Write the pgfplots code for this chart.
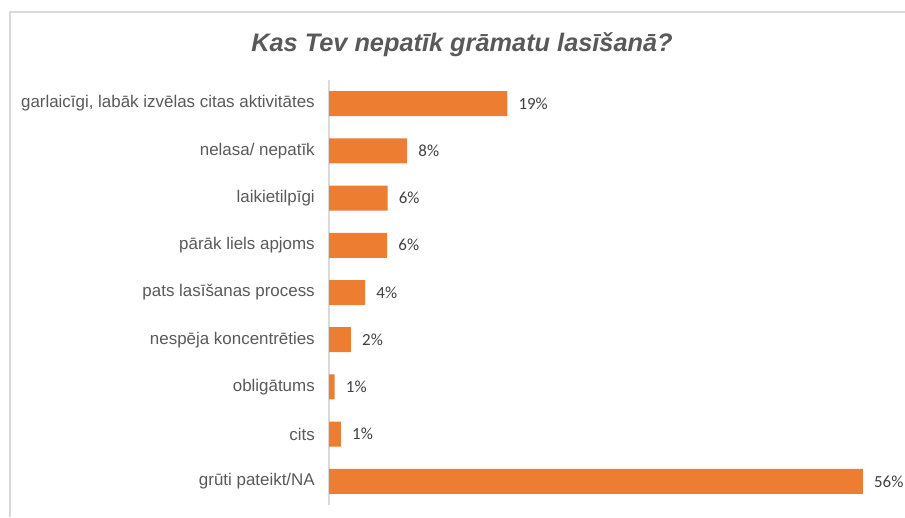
\documentclass[border=0pt]{standalone}
\usepackage{fontspec}
\setmainfont{Liberation Sans}
\newfontfamily\carlito{Carlito}
\usepackage{pgfplots}
\pgfplotsset{compat=1.18}
\usepackage{pgfplotstable}

\definecolor{barorange}{HTML}{ED7D31}
\definecolor{labelgray}{HTML}{595959}
\definecolor{valgray}{HTML}{404040}
\definecolor{framegray}{HTML}{D9D9D9}

% 1 px of the reference = 0.75pt
\newcommand\px{0.75pt}

% y = row (0 at top), x = share in %, lab = printed value
\pgfplotstableread{
y x lab
0 18.7 19
1 8.2 8
2 6.15 6
3 6.1 6
4 3.8 4
5 2.3 2
6 0.6 1
7 1.25 1
8 56 56
}\answers

\begin{document}
\begin{tikzpicture}
  % frame of the chart area (cut by the image on the right and bottom)
  \draw[framegray, line width=1.2pt] (10*\px,-517*\px) -- (10*\px,-12*\px) -- (905*\px,-12*\px);

  \node[font=\fontsize{19}{22}\selectfont\bfseries\itshape, text=labelgray]
    at (462*\px,-45*\px) {Kas Tev nepatīk grāmatu lasīšanā?};

  \begin{axis}[
      at={(329*\px,-80*\px)}, anchor=north west,
      scale only axis,
      width=572*\px, height=425*\px,
      xbar, bar width=25*\px,
      xmin=0, xmax=60,
      ymin=-0.5, ymax=8.5,
      y dir=reverse,
      hide x axis,
      axis y line*=left,
      y axis line style={framegray, line width=0.9pt, -},
      ytick={0,...,8},
      yticklabels={{garlaicīgi, labāk izvēlas citas aktivitātes},
        {nelasa/ nepatīk}, {laikietilpīgi}, {pārāk liels apjoms},
        {pats lasīšanas process}, {nespēja koncentrēties},
        {obligātums}, {cits}, {grūti pateikt/NA}},
      major tick length=0pt,
      yticklabel style={font=\fontsize{12.7}{15}\selectfont, text=labelgray,
        inner sep=0pt, xshift=-14*\px},
      point meta=explicit,
      nodes near coords={\carlito\pgfmathprintnumber[assume math mode=true]{\pgfplotspointmeta}\%},
      nodes near coords style={anchor=west, inner sep=0pt, xshift=11*\px,
        font=\fontsize{12.7}{15}\selectfont, text=valgray},
      clip=false,
    ]
    \addplot[fill=barorange, draw=none] table[x=x, y=y, meta=lab] {\answers};
  \end{axis}

  \pgfresetboundingbox
  \path[use as bounding box] (0,0) rectangle (905*\px,-517*\px);
\end{tikzpicture}
\end{document}
